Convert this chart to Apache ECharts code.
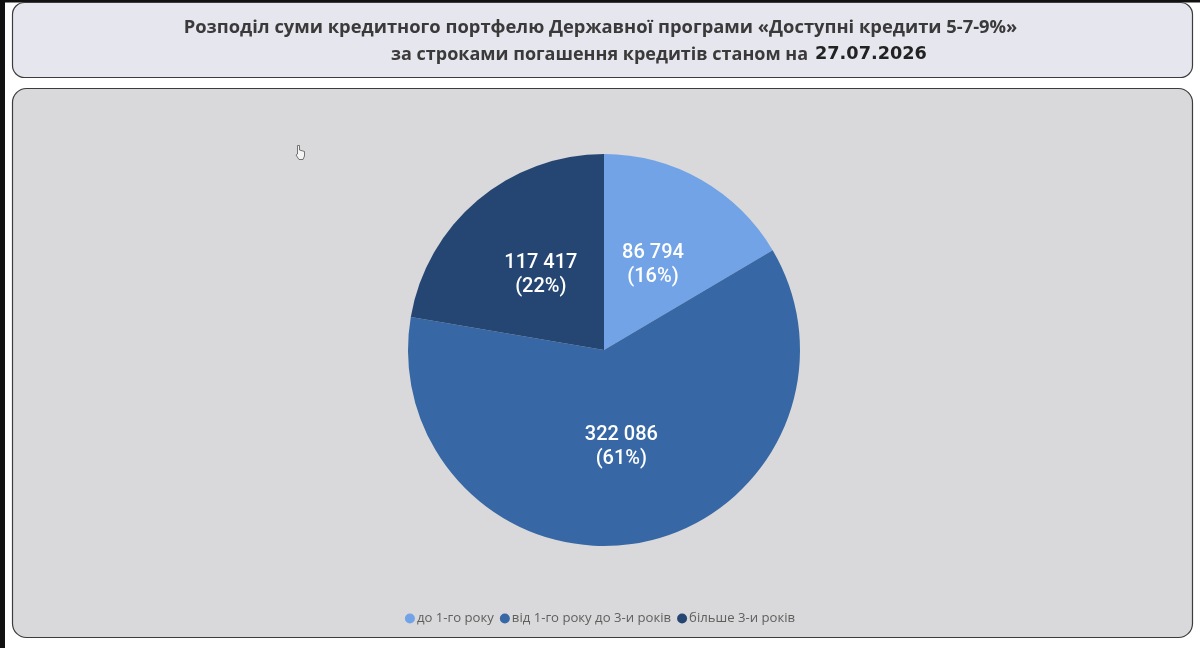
<!DOCTYPE html>
<html><head><meta charset="utf-8">
<style>html,body{margin:0;padding:0;background:#fff;width:1200px;height:648px;overflow:hidden}#c{width:1200px;height:648px}</style>
<script src="https://cdn.jsdelivr.net/npm/echarts@6/dist/echarts.min.js"></script></head>
<body><div id="c"></div>
<script>
const categories=["до 1-го року","від 1-го року до 3-и років","більше 3-и років"];
const values=[86794,322086,117417];
const percents=[16,61,22];
const colors=["#71a3e6","#3768a5","#254672"];
const titleLine1="Розподіл суми кредитного портфелю Державної програми «Доступні кредити 5-7-9%»";
const titleLine2="за строками погашення кредитів станом на";
const titleDate="27.07.2026";
const fmt=v=>String(v).replace(/\B(?=(\d{3})+$)/g," ");
const chart=echarts.init(document.getElementById('c'),null,{renderer:'canvas'});
const labelShift=[[-1,2.5],[-1,-2.5],[2,2]];
chart.setOption({
 animation:false,
 graphic:[
  {type:'rect',z:0,shape:{x:0,y:0,width:1200,height:2.5},style:{fill:'#111'}},
  {type:'rect',z:0,shape:{x:0,y:0,width:5,height:648},style:{fill:'#111'}},
  {type:'rect',z:0,shape:{x:12.5,y:2.5,width:1180,height:75,r:12},style:{fill:'#e6e6ef',stroke:'#3c3c3c',lineWidth:1.2}},
  {type:'rect',z:0,shape:{x:12.5,y:88.5,width:1180,height:549,r:14},style:{fill:'#d9d9db',stroke:'#3c3c3c',lineWidth:1.2}},
  {type:'polygon',z:1,shape:{points:[[297.5,145.5],[299.5,145.5],[299.5,150],[304.5,151.5],[304.5,156],[303,159.5],[299,159.5],[296,155],[297.5,154]]},style:{fill:'#f4f4f4',stroke:'#555',lineWidth:0.8}},
  {type:'text',z:1,style:{x:600.5,y:27.5,text:titleLine1,align:'center',verticalAlign:'middle',font:'bold 18.35px "Open Sans"',fill:'#3a3a3a'}},
  {type:'text',z:1,style:{x:391,y:54.5,text:titleLine2,align:'left',verticalAlign:'middle',font:'bold 18px "Open Sans"',fill:'#3a3a3a'}},
  {type:'text',z:1,style:{x:815,y:54.5,text:titleDate,align:'left',verticalAlign:'middle',font:'bold 17.7px "DejaVu Sans"',fill:'#222'}}
 ],
 legend:{top:607,left:'center',icon:'circle',itemWidth:10,itemHeight:10,itemGap:6,
  textStyle:{color:'#605e5c',fontSize:13.15,fontFamily:'"Open Sans"',padding:[0,0,0,-3]},data:categories},
 series:[{type:'pie',center:[604,350],radius:[0,196],startAngle:90,clockwise:true,z:2,
  data:categories.map((n,i)=>({name:n,value:values[i],itemStyle:{color:colors[i]},label:{offset:labelShift[i]}})),
  label:{position:'inside',color:'#fff',fontSize:20,lineHeight:23.5,fontWeight:500,fontFamily:'Roboto',
   formatter:p=>fmt(p.value)+"\n("+percents[p.dataIndex]+"%)"},
  labelLine:{show:false}}]
});
</script></body></html>
